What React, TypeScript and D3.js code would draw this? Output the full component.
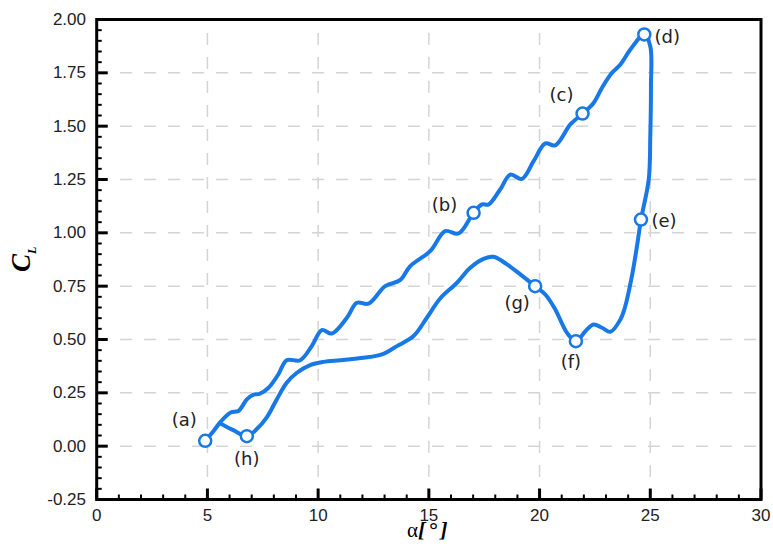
import React from 'react';
import * as d3 from 'd3';

// digitised hysteresis loop, (a) -> upper branch -> (d) -> (e) -> (f) -> (g) -> lower branch -> (h)
const alpha = [
  4.9, 5.27, 5.6, 6.05, 6.4, 6.78, 7.08, 7.35, 7.76, 8.2, 8.58, 9.19, 9.71, 10.17, 10.62, 11.3,
  11.75, 12.27, 13.03, 13.7, 14.16, 15.06, 15.74, 16.34, 17.02, 17.4, 17.7, 18.22, 18.68, 19.2,
  19.73, 20.26, 20.71, 21.39, 21.94, 22.44, 22.82, 23.27, 23.65, 24.1, 24.73, 25.0, 25.03, 25.0,
  24.93, 24.58, 24.4, 24.17, 23.87, 23.65, 23.2, 22.82, 22.44, 22.07, 21.64, 21.24, 20.71, 20.26,
  19.8, 19.13, 18.53, 17.92, 17.47, 16.87, 16.27, 15.51, 14.91, 14.31, 13.56, 12.88, 12.05, 11.0,
  10.24, 9.64, 9.04, 8.58, 8.13, 7.68, 7.23, 6.78, 6.17, 5.57,
];
const cl = [
  0.025, 0.07, 0.115, 0.158, 0.165, 0.219, 0.242, 0.245, 0.274, 0.336, 0.403, 0.403, 0.469, 0.544,
  0.528, 0.602, 0.672, 0.668, 0.75, 0.778, 0.844, 0.914, 1.008, 0.997, 1.094, 1.133, 1.133, 1.203,
  1.273, 1.253, 1.336, 1.419, 1.41, 1.508, 1.559, 1.609, 1.68, 1.75, 1.789, 1.859, 1.93, 1.875,
  1.688, 1.453, 1.25, 1.062, 0.938, 0.797, 0.656, 0.594, 0.536, 0.555, 0.57, 0.539, 0.492, 0.531,
  0.641, 0.711, 0.75, 0.805, 0.852, 0.888, 0.878, 0.836, 0.766, 0.692, 0.602, 0.516, 0.469, 0.43,
  0.414, 0.403, 0.395, 0.38, 0.344, 0.297, 0.219, 0.135, 0.08, 0.047, 0.075, 0.108,
];

const markerLabels = ['(a)', '(b)', '(c)', '(d)', '(e)', '(f)', '(g)', '(h)'];
const markerAlpha = [4.9, 17.02, 21.94, 24.73, 24.58, 21.64, 19.8, 6.78];
const markerCl = [0.025, 1.094, 1.559, 1.93, 1.062, 0.492, 0.75, 0.047];

const xMajor = [0, 5, 10, 15, 20, 25, 30];
const yMajor = [-0.25, 0, 0.25, 0.5, 0.75, 1.0, 1.25, 1.5, 1.75, 2.0];

// label placement around each marker, in px
const labelOffset: Record<string, [number, number]> = {
  '(a)': [-21, -21],
  '(b)': [-29, -8],
  '(c)': [-21, -19],
  '(d)': [23, 2],
  '(e)': [23, 1],
  '(f)': [-5, 20],
  '(g)': [-18, 16],
  '(h)': [0, 22],
};

const W = 773;
const H = 549;
const blue = '#1879e6';

export default function App() {
  const x = d3.scaleLinear().domain([0, 30]).range([96.7, 761]);
  const y = d3.scaleLinear().domain([-0.25, 2]).range([499.5, 19.5]);

  const xMinor = d3.range(0, 31, 1).filter(v => v % 5 !== 0);
  const yMinor = d3.range(-25, 201, 5).map(v => v / 100).filter(v => Math.round(v * 100) % 25 !== 0);

  const line = d3
    .line<number>()
    .x((d, i) => x(alpha[i]))
    .y((d, i) => y(cl[i]))
    .curve(d3.curveCatmullRom.alpha(0.5));

  const [x0, x1] = x.range();
  const [y0, y1] = y.range();
  const tickFont = { fontFamily: '"Liberation Sans", Arial, sans-serif', fontSize: 17 };

  return (
    <svg width={W} height={H} style={{ position: 'absolute', left: 0, top: 0, background: '#fff' }}>
      {/* grid */}
      <g stroke="#d4d4d4" strokeWidth={1.5} strokeDasharray="12 12" fill="none">
        {xMajor.slice(1, -1).map(v => (
          <line key={'gx' + v} x1={x(v)} x2={x(v)} y1={y1} y2={y0} strokeDashoffset={10.5} />
        ))}
        {yMajor.slice(1, -1).map(v => (
          <line key={'gy' + v} x1={x0} x2={x1} y1={y(v)} y2={y(v)} strokeDashoffset={0.7} />
        ))}
      </g>

      {/* ticks */}
      <g stroke="#000">
        {xMajor.map(v => (
          <line key={'tx' + v} x1={x(v)} x2={x(v)} y1={y0} y2={y0 - 11} strokeWidth={3} />
        ))}
        {xMinor.map(v => (
          <line key={'mx' + v} x1={x(v)} x2={x(v)} y1={y0} y2={y0 - 5} strokeWidth={2} />
        ))}
        {yMajor.map(v => (
          <line key={'ty' + v} x1={x0} x2={x0 + 11} y1={y(v)} y2={y(v)} strokeWidth={3} />
        ))}
        {yMinor.map(v => (
          <line key={'my' + v} x1={x0} x2={x0 + 5} y1={y(v)} y2={y(v)} strokeWidth={2} />
        ))}
      </g>

      {/* frame */}
      <rect x={x0} y={y1} width={x1 - x0} height={y0 - y1} fill="none" stroke="#000" strokeWidth={3} />

      {/* tick labels */}
      <g {...tickFont} fill="#222">
        {xMajor.map(v => (
          <text key={'lx' + v} x={x(v)} y={y0 + 21} textAnchor="middle">
            {v}
          </text>
        ))}
        {yMajor.map(v => (
          <text key={'ly' + v} x={86} y={y(v)} textAnchor="end" dominantBaseline="central">
            {v.toFixed(2)}
          </text>
        ))}
      </g>

      {/* curve */}
      <path
        d={line(alpha) || ''}
        fill="none"
        stroke={blue}
        strokeWidth={4}
        strokeLinejoin="round"
        strokeLinecap="round"
      />

      {/* markers */}
      {markerLabels.map((lab, i) => {
        const cx = x(markerAlpha[i]);
        const cy = y(markerCl[i]);
        const [dx, dy] = labelOffset[lab];
        return (
          <g key={lab}>
            <circle cx={cx} cy={cy} r={6} fill="#fff" stroke={blue} strokeWidth={2.5} />
            <text
              x={cx + dx}
              y={cy + dy}
              textAnchor="middle"
              dominantBaseline="central"
              fontFamily='"DejaVu Sans", Verdana, sans-serif'
              fontSize={18}
              fill="#222"
            >
              {lab}
            </text>
          </g>
        );
      })}

      {/* axis titles */}
      <text
        transform="translate(30,272) rotate(-90)"
        fontFamily='"Liberation Serif", "Times New Roman", serif'
        fontWeight="bold"
        fontStyle="italic"
      >
        <tspan fontSize={27}>C</tspan>
        <tspan fontSize={12} dy={6}>
          L
        </tspan>
      </text>
      <text x={407} y={537} fontFamily='"Liberation Serif", "Times New Roman", serif'>
        <tspan fontSize={21}>α</tspan>
        <tspan fontSize={22} fontWeight="bold" fontStyle="italic" letterSpacing={3}>
          [°]
        </tspan>
      </text>
    </svg>
  );
}
